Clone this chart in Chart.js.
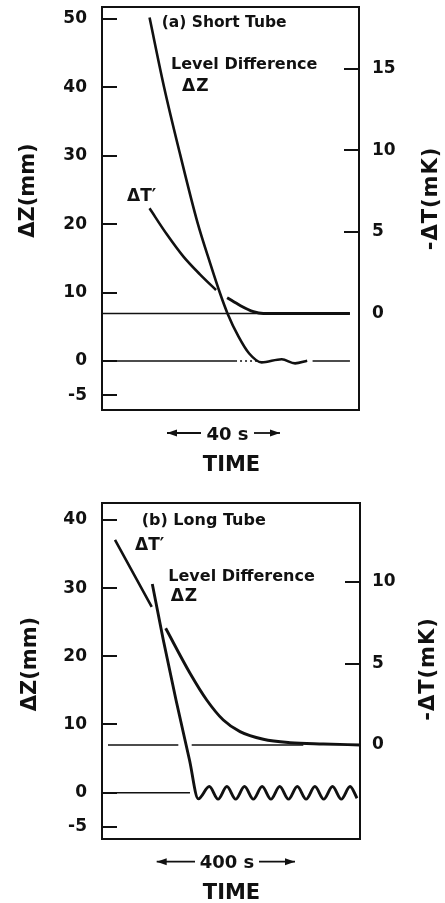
<!DOCTYPE html>
<html><head><meta charset="utf-8">
<script src="https://cdn.jsdelivr.net/npm/chart.js@4/dist/chart.umd.min.js"></script>
<style>
html,body{margin:0;padding:0;background:#fff;width:445px;height:903px;overflow:hidden}
canvas{position:absolute;left:0;display:block}
#ca{top:0}
#cb{top:480px}
</style></head><body>
<canvas id="ca" width="445" height="480"></canvas>
<canvas id="cb" width="445" height="423"></canvas>
<script>
// ---------------- data ----------------
// Panel (a) Short Tube : time in s
const aLevelTime = [16.8, 21.9, 27.6, 33.7, 38.2, 41.7, 44.3, 48.2, 52.0, 56.4, 63.5, 68.2, 72.5];
const aLevelDZ   = [50.2, 40.1, 30.2, 20.3, 14.3, 9.9, 7.0, 3.6, 1.1, -0.2, 0.25, -0.34, 0.04];
const aDT1Time   = [16.8, 22.9, 28.7, 34.6, 40.3];
const aDT1       = [6.44, 4.85, 3.50, 2.40, 1.44];
const aDT2Time   = [44.2, 48.8, 53.5, 57.0, 87.6];
const aDT2       = [0.97, 0.49, 0.11, 0, 0];
const aZeroDTTime = [0, 87.6];
const aZeroDZSolidTime = [0, 47];
const aZeroDZDotTime = [47, 55];
const aZeroDZEndTime = [74.4, 87.6];
const aLeftTicks  = [-5, 0, 10, 20, 30, 40, 50];
const aRightTicks = [0, 5, 10, 15];

// Panel (b) Long Tube : time in s
const bLevelTime = [145.8, 177.7, 214.5, 253.6, 279.1, 311.0, 336.5, 362.0, 387.5, 413.0, 438.6,
                    464.1, 489.6, 515.1, 540.6, 566.1, 591.6, 617.1, 642.6, 668.1, 693.6, 719.1, 739.1];
const bLevelDZ   = [30.6, 22.4, 13.6, 4.8, -0.9, 0.9, -0.95, 0.9, -0.95, 0.9, -0.95,
                    0.9, -0.95, 0.9, -0.95, 0.9, -0.95, 0.9, -0.95, 0.9, -0.95, 0.9, -0.8];
const bDT1Time   = [37.7, 144.1];
const bDT1       = [12.58, 8.47];
const bDT2Time   = [184.6, 255.1, 303.5, 351.6, 400.0, 467.5, 544.9, 641.4, 747.8];
const bDT2       = [7.16, 4.40, 2.76, 1.53, 0.82, 0.35, 0.14, 0.06, 0];
const bZeroDT1Time = [17.4, 221.2];
const bZeroDT2Time = [260, 583.5];
const bZeroDZTime  = [14.5, 255];
const bLeftTicks  = [-5, 0, 10, 20, 30, 40];
const bRightTicks = [0, 5, 10];

// ---------------- helpers ----------------
const INK = '#111';
const FONT = 'DejaVu Sans';
const pts = (xs, ys) => xs.map((x, i) => ({x, y: ys[i]}));
const flat = (xs, v) => xs.map(x => ({x, y: v}));

function ds(data, axis, width, dash) {
  return {data, yAxisID: axis, borderColor: INK, borderWidth: width, borderDash: dash || [],
          pointRadius: 0, fill: false, cubicInterpolationMode: 'monotone', borderCapStyle: 'butt'};
}

function textPlugin(texts, arrows) {
  return {
    id: 'figText',
    afterDraw(chart) {
      const ctx = chart.ctx;
      ctx.save();
      ctx.fillStyle = INK; ctx.strokeStyle = INK;
      for (const t of texts) {
        ctx.save();
        ctx.font = 'bold ' + t.size + 'px "' + FONT + '"';
        ctx.letterSpacing = (t.ls || 0) + 'px';
        ctx.textAlign = t.align || 'left';
        ctx.textBaseline = 'alphabetic';
        ctx.translate(t.x, t.y);
        if (t.rot) ctx.rotate(-Math.PI / 2);
        ctx.fillText(t.text, 0, 0.365 * t.size);
        ctx.restore();
      }
      for (const a of arrows) {
        ctx.lineWidth = 1.8;
        ctx.beginPath(); ctx.moveTo(a.from, a.y); ctx.lineTo(a.to, a.y); ctx.stroke();
        const d = Math.sign(a.to - a.from);
        ctx.beginPath();
        ctx.moveTo(a.to, a.y);
        ctx.lineTo(a.to - d * 10, a.y - 3.5);
        ctx.lineTo(a.to - d * 10, a.y + 3.5);
        ctx.closePath(); ctx.fill();
      }
      ctx.restore();
    }
  };
}

function yScale(pos, min, max, tickVals, width, pad, hideZeroTick) {
  return {
    type: 'linear', position: pos, min, max,
    afterBuildTicks: s => { s.ticks = tickVals.map(v => ({value: v})); },
    afterFit: s => { s.width = width; s.paddingTop = 0; s.paddingBottom = 0; },
    ticks: {padding: pad, color: INK, font: {family: FONT, size: 17, weight: 'bold'}, callback: v => String(v)},
    grid: {drawOnChartArea: false, drawTicks: true, tickLength: -15, lineWidth: 2, color: INK,
           tickColor: c => (hideZeroTick && c.tick && c.tick.value === 0) ? 'rgba(0,0,0,0)' : INK},
    border: {display: true, width: 2, color: INK}
  };
}
function xScale(pos, max, height) {
  return {
    type: 'linear', position: pos, min: 0, max,
    afterFit: s => { s.height = height; s.paddingLeft = 0; s.paddingRight = 0; },
    ticks: {display: false},
    grid: {display: true, drawOnChartArea: false, drawTicks: false},
    border: {display: true, width: 2, color: INK}
  };
}

function makeChart(id, c) {
  return new Chart(document.getElementById(id), {
    type: 'line',
    data: {datasets: c.datasets},
    plugins: [textPlugin(c.texts, c.arrows)],
    options: {
      responsive: false, animation: false, events: [],
      layout: {padding: 0},
      plugins: {legend: {display: false}, tooltip: {enabled: false}, title: {display: false}},
      scales: {
        x: xScale('bottom', c.xMax, c.bottomH),
        xTop: xScale('top', c.xMax, c.topH),
        yL: yScale('left', c.yL[0], c.yL[1], c.leftTicks, 102, 30, false),
        yR: yScale('right', c.yR[0], c.yR[1], c.rightTicks, c.rightW, c.rightPad, true)
      }
    }
  });
}

Chart.defaults.font.family = FONT;

// ---------------- panel (a) ----------------
makeChart('ca', {
  xMax: 90.8, topH: 7, bottomH: 70, rightW: 86, rightPad: 28,
  yL: [-7.16, 51.75], yR: [-5.91, 18.77],
  leftTicks: aLeftTicks, rightTicks: aRightTicks,
  datasets: [
    ds(flat(aZeroDTTime, 0), 'yR', 1.6),
    ds(flat(aZeroDZSolidTime, 0), 'yL', 1.6),
    ds(flat(aZeroDZDotTime, 0), 'yL', 1.6, [2, 3]),
    ds(flat(aZeroDZEndTime, 0), 'yL', 1.6),
    ds(pts(aDT1Time, aDT1), 'yR', 2.6),
    ds(pts(aDT2Time, aDT2), 'yR', 2.9),
    ds(pts(aLevelTime, aLevelDZ), 'yL', 2.6)
  ],
  texts: [
    {text: '(a) Short Tube', x: 161.7, y: 21.7, size: 15.5},
    {text: 'Level Difference', x: 171, y: 63.3, size: 16},
    {text: 'ΔZ', x: 182, y: 85, size: 17, ls: 1},
    {text: 'ΔT′', x: 127, y: 195, size: 17},
    {text: 'ΔZ(mm)', x: 26, y: 190.5, size: 21, rot: true, align: 'center'},
    {text: '-ΔT(mK)', x: 429, y: 198.5, size: 21, rot: true, align: 'center', ls: 1},
    {text: '40 s', x: 227.5, y: 433, size: 18, align: 'center'},
    {text: 'TIME', x: 231.5, y: 463.5, size: 21, align: 'center'}
  ],
  arrows: [{from: 201, to: 167, y: 433}, {from: 254, to: 280, y: 433}]
});

// ---------------- panel (b) ----------------
makeChart('cb', {
  xMax: 747.8, topH: 23, bottomH: 64, rightW: 85, rightPad: 27,
  yL: [-6.79, 42.48], yR: [-5.77, 14.85],
  leftTicks: bLeftTicks, rightTicks: bRightTicks,
  datasets: [
    ds(flat(bZeroDT1Time, 0), 'yR', 1.6),
    ds(flat(bZeroDT2Time, 0), 'yR', 1.6),
    ds(flat(bZeroDZTime, 0), 'yL', 1.6),
    ds(pts(bDT1Time, bDT1), 'yR', 2.6),
    ds(pts(bDT2Time, bDT2), 'yR', 2.9),
    ds(pts(bLevelTime, bLevelDZ), 'yL', 2.9)
  ],
  texts: [
    {text: '(b) Long Tube', x: 141.7, y: 39, size: 16},
    {text: 'ΔT′', x: 135, y: 63.3, size: 17},
    {text: 'Level Difference', x: 168.3, y: 95, size: 16},
    {text: 'ΔZ', x: 170.7, y: 115, size: 17, ls: 1},
    {text: 'ΔZ(mm)', x: 28.3, y: 184, size: 21, rot: true, align: 'center'},
    {text: '-ΔT(mK)', x: 426.7, y: 189, size: 21, rot: true, align: 'center', ls: 1},
    {text: '400 s', x: 227, y: 381.7, size: 18, align: 'center'},
    {text: 'TIME', x: 231.5, y: 411.7, size: 21, align: 'center'}
  ],
  arrows: [{from: 195, to: 156.7, y: 381.7}, {from: 259, to: 295, y: 381.7}]
});
</script>
</body></html>
